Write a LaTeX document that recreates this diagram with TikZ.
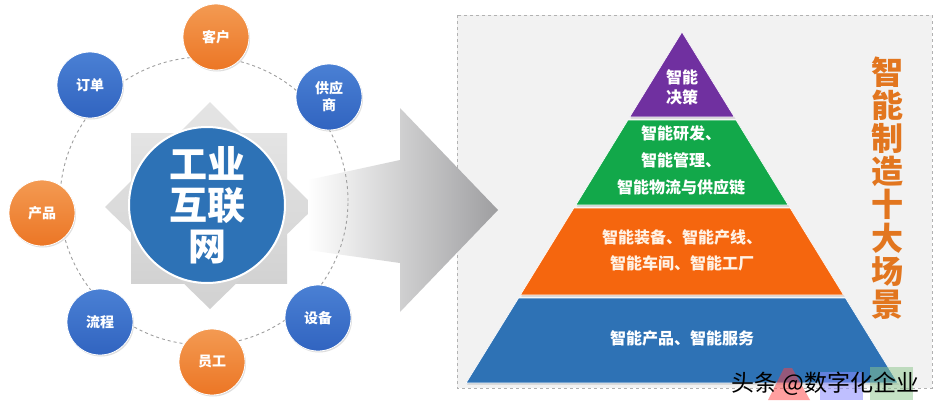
\documentclass[tikz,border=0pt]{standalone}
\usepackage{fontspec}
\setmainfont{Noto Sans CJK SC}
\usetikzlibrary{shadows}
\definecolor{corange}{HTML}{EC7625}
\definecolor{corangel}{HTML}{F39A52}
\definecolor{cblue}{HTML}{3164C0}
\definecolor{cbluel}{HTML}{4A80D4}
\definecolor{cmain}{HTML}{2D72B6}
\definecolor{ppurple}{HTML}{7030A0}
\definecolor{pgreen}{HTML}{12A84A}
\definecolor{porange}{HTML}{F5660E}
\definecolor{pblue}{HTML}{2E72B5}
\definecolor{ttl}{HTML}{E2761F}
\definecolor{panel}{HTML}{F2F2F2}
\definecolor{stargray}{HTML}{D2D2D2}
\begin{document}
\begin{tikzpicture}[x=1pt,y=-1pt]
\tikzset{
  sat/.style={circle, minimum size=66pt, inner sep=0pt, draw=white, line width=0.8pt,
    text=white, font=\fontsize{14}{17}\selectfont\bfseries, align=center,
    drop shadow={opacity=0.25, shadow xshift=1pt, shadow yshift=-1.5pt}},
  osat/.style={sat, top color=corangel, bottom color=corange},
  bsat/.style={sat, top color=cbluel, bottom color=cblue},
  layer/.style={draw=white, line width=0.6pt,
    drop shadow={opacity=0.3, shadow xshift=1pt, shadow yshift=-1.5pt}},
  ltext/.style={text=white, font=\fontsize{16}{27}\selectfont\bfseries, align=center, inner sep=0pt},
  starpart/.style={top color=stargray!60!white, bottom color=stargray},
}
\useasboundingbox (0,0) rectangle (938,407);
\fill[white] (0,0) rectangle (938,407);

% right panel
\draw[fill=panel, draw=gray!60, dashed, line width=0.6pt] (457,15) rectangle (932,388);

% pyramid layers (apex 682,32; slope 0.615)
\fill[ppurple, layer] (682,32) -- (734.3,117) -- (629.7,117) -- cycle;
\fill[pgreen, layer] (628,120) -- (736,120) -- (788.1,205) -- (575.9,205) -- cycle;
\fill[porange, layer] (573.9,208) -- (790.1,208) -- (843.6,295) -- (520.4,295) -- cycle;
\fill[pblue, layer] (518.6,298) -- (845.4,298) -- (897.9,383) -- (466.1,383) -- cycle;

\node[ltext, font=\fontsize{16}{20}\selectfont\bfseries] (l1) at (682,87) {智能\\决策};
\node[ltext] (l2) at (681,160) {智能研发、\\智能管理、\\智能物流与供应链};
\node[ltext, font=\fontsize{16}{26}\selectfont\bfseries, text=white!90!orange] (l3) at (682,250) {智能装备、智能产线、\\智能车间、智能工厂};
\node[ltext] (l4) at (682,338) {智能产品、智能服务};

% vertical title
\node[text=ttl, font=\fontsize{32}{33.2}\selectfont\bfseries, align=center, inner sep=0pt] (title) at (887,188)
  {智\\能\\制\\造\\十\\大\\场\\景};

% star behind hub
\shade[starpart] (131,133) rectangle (287,283);
\shade[starpart] (210,102) -- (315,207) -- (210,309) -- (105,207) -- cycle;

% hub
\node[circle, minimum size=156pt, inner sep=0pt, fill=cmain, draw=white, line width=2pt,
  text=white, font=\fontsize{38}{41}\selectfont\bfseries, align=center] (hub) at (207,205) {工业\\互联\\网};

% big arrow
\shade[left color=white, right color={rgb,255:red,158;green,158;blue,160}]
  (308,180) -- (400,160) -- (400,108) -- (498,210) -- (400,312) -- (400,263) -- (308,250) -- cycle;

% dashed ring
\draw[gray!75, dashed, line width=0.9pt] (204,201) circle (144pt);

% satellites
\node[osat] (kehu) at (216,37) {客户};
\node[bsat] (gys) at (329,97) {供应\\商};
\node[bsat] (dingdan) at (90,85) {订单};
\node[osat] (chanpin) at (42,213) {产品};
\node[bsat] (liucheng) at (100,322) {流程};
\node[osat] (yuangong) at (212,362) {员工};
\node[bsat] (shebei) at (318,318) {设备};

% watermark
\fill[red!75, opacity=0.5] (768,400) -- (784,368) -- (792,368) -- (810,400) -- cycle;
\fill[blue!45, opacity=0.55] (820,372) rectangle (863,400);
\fill[green!50!black!45, opacity=0.5] (870,367) rectangle (913,400);
\node[text=black, font=\fontsize{23}{23}\selectfont, inner sep=0pt, anchor=base west] (wm) at (731,391) {头条 @数字化企业};
\end{tikzpicture}
\end{document}
